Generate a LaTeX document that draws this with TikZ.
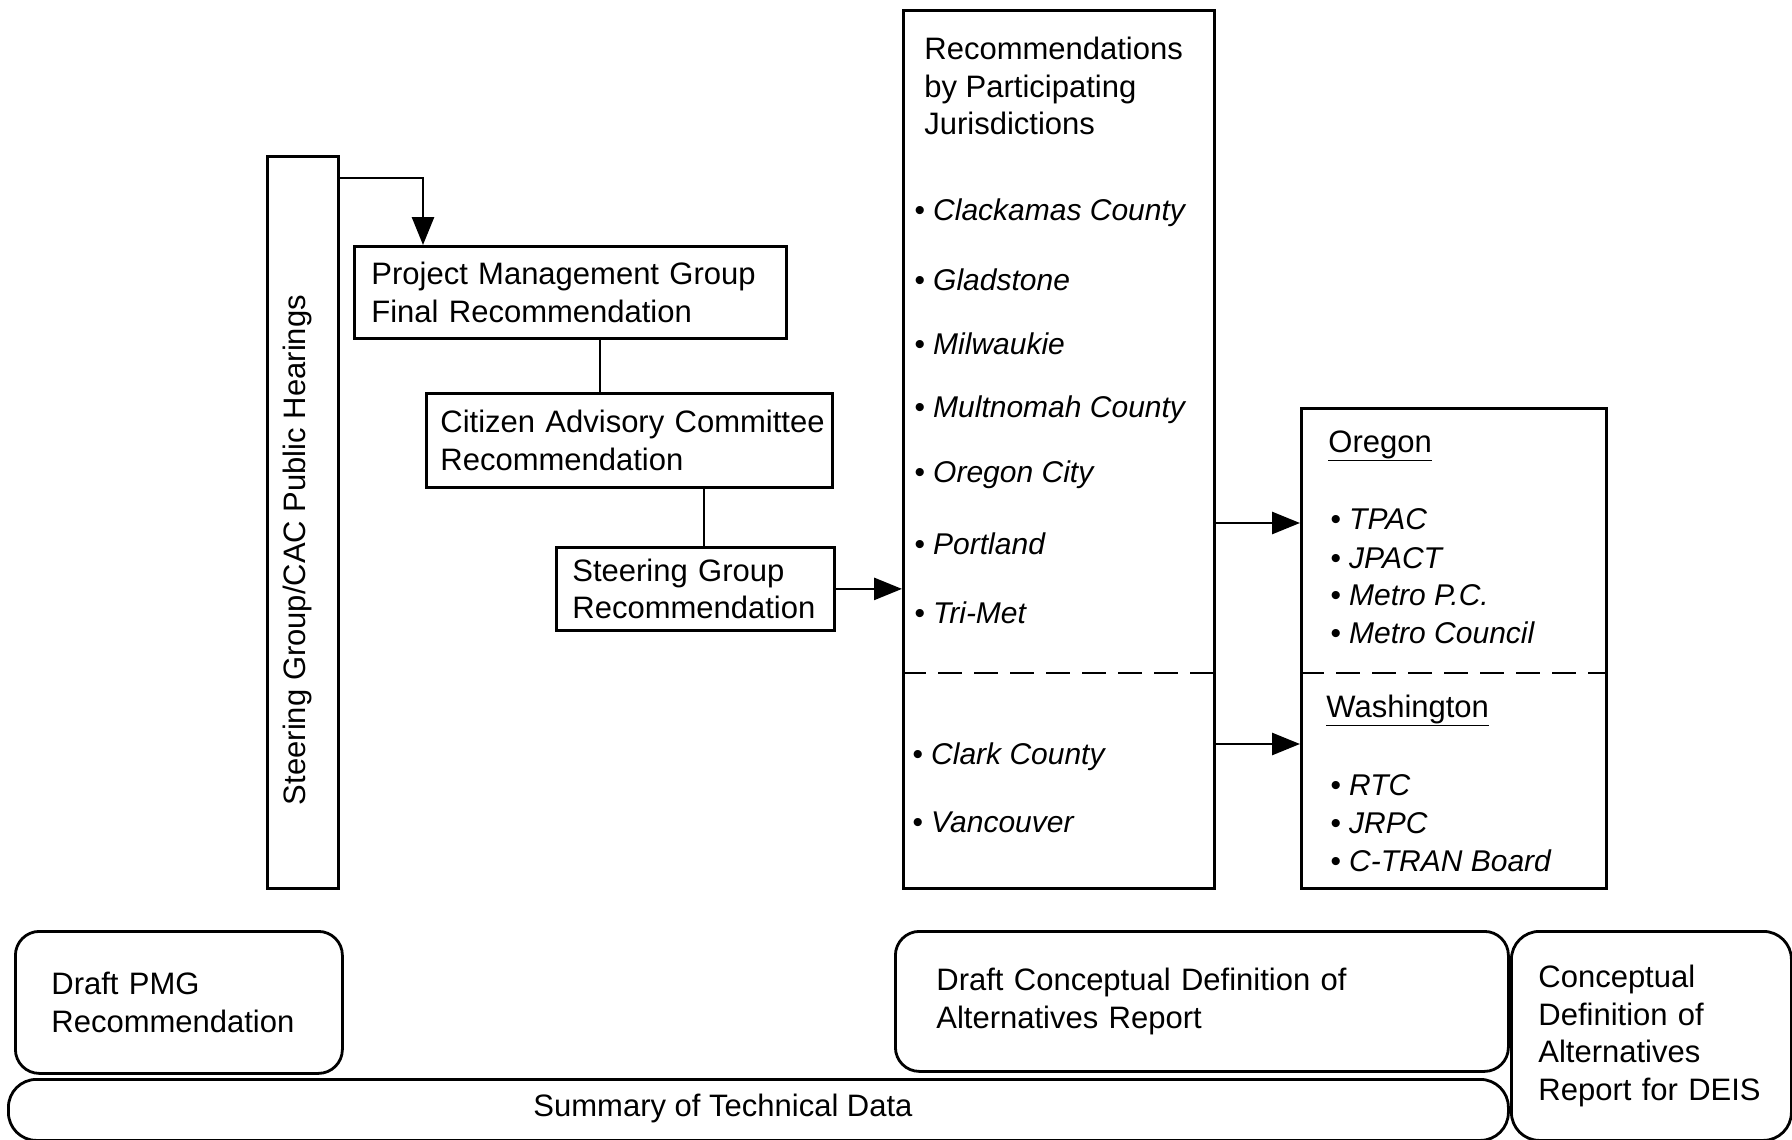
\documentclass[tikz,border=0pt]{standalone}
\usepackage{fontspec}
\setmainfont{Liberation Sans}
\usetikzlibrary{arrows.meta}
\newcommand\fsmain{\fontsize{31pt}{37.5pt}\selectfont}
\newcommand\fsitem{\fontsize{30pt}{37.5pt}\selectfont\itshape}
\begin{document}
\begin{tikzpicture}[x=1pt,y=-1pt,line width=2.8pt,
  box/.style={draw, rectangle, anchor=north west, inner ysep=0pt, align=left, font=\fsmain},
  rbox/.style={box, rounded corners=24pt},
  lbl/.style={inner sep=0pt, anchor=west, align=left, font=\fsmain},
  item/.style={inner sep=0pt, anchor=west, font=\fsitem},
  arr/.style={-{Triangle[length=28pt,width=22pt]}},
  dashline/.style={dash pattern=on 24pt off 12pt}]
\clip (0,0) rectangle (1792,1140);
% left vertical bar
\node[box, minimum width=71pt, minimum height=732pt] (bar) at (266,155) {};
\node[inner sep=0pt, rotate=90, font=\fsmain] (bartext) at (297,550) {Steering Group/CAC Public Hearings};
% chain of recommendation boxes
\node[box, minimum width=432pt, minimum height=92pt, inner xsep=17pt, text width=398pt] (pmg) at (353,245)
  {\mbox{Project Management Group}\\Final Recommendation};
\node[box, minimum width=406pt, minimum height=94pt, inner xsep=14pt, text width=378pt] (cac) at (425,392)
  {\mbox{Citizen Advisory Committee}\\Recommendation};
\node[box, minimum width=278pt, minimum height=83pt, inner xsep=16pt, text width=246pt] (sg) at (555,546)
  {\mbox{Steering Group}\\Recommendation};
% jurisdictions box
\node[box, minimum width=311pt, minimum height=878pt] (rec) at (902,9) {};
\node[lbl] (rechead) at (923,86) {Recommendations\\by Participating\\Jurisdictions};
\node[item] (j1) at (913,213) {• Clackamas County};
\node[item] (j2) at (913,280) {• Gladstone};
\node[item] (j3) at (913,344) {• Milwaukie};
\node[item] (j4) at (913,410) {• Multnomah County};
\node[item] (j5) at (913,475) {• Oregon City};
\node[item] (j6) at (913,544) {• Portland};
\node[item] (j7) at (913,613) {• Tri-Met};
\node[item] (j8) at (911,757) {• Clark County};
\node[item] (j9) at (911,822) {• Vancouver};
% regional box
\node[box, minimum width=305pt, minimum height=480pt] (rgt) at (1300,407) {};
\node[lbl] (oreg) at (1327,446) {\underline{Oregon}};
\node[item] (o1) at (1329,519) {• TPAC};
\node[item] (o2) at (1329,558) {• JPACT};
\node[item] (o3) at (1329,595) {• Metro P.C.};
\node[item] (o4) at (1329,633) {• Metro Council};
\node[lbl] (wash) at (1325,710) {\underline{Washington}};
\node[item] (w1) at (1329,785) {• RTC};
\node[item] (w2) at (1329,823) {• JRPC};
\node[item] (w3) at (1329,861) {• C-TRAN Board};
% dashed separators
\draw[dashline] ([yshift=-664pt]rec.north west) -- ([yshift=-664pt]rec.north east);
\draw[dashline] ([yshift=-266pt]rgt.north west) -- ([yshift=-266pt]rgt.north east);
% bottom report boxes
\node[rbox, minimum width=327pt, minimum height=142pt, inner xsep=36pt, text width=255pt] (dpmg) at (14,930)
  {Draft PMG\\Recommendation};
\node[rbox, minimum width=613pt, minimum height=140pt, inner xsep=41pt, text width=531pt] (dcda) at (894,930)
  {\mbox{Draft Conceptual Definition of}\\Alternatives Report};
\node[rbox, rounded corners=28pt, minimum width=1500pt, minimum height=61pt] (summ) at (7,1078) {};
\node[inner sep=0pt, font=\fsmain] (summtext) at (723,1108) {Summary of Technical Data};
\node[rbox, rounded corners=28pt, minimum width=280pt, minimum height=209pt, inner xsep=27pt, text width=226pt] (cdar) at (1510,930)
  {Conceptual\\Definition of\\Alternatives\\\mbox{Report for DEIS}};
% connectors
\draw[arr] ([yshift=-23pt]bar.north east) -| ([xshift=70pt]pmg.north west);
\draw ([xshift=247pt]pmg.south west) -- ([xshift=175pt]cac.north west);
\draw ([xshift=279pt]cac.south west) -- ([xshift=149pt]sg.north west);
\draw[arr] (sg.east) -- (sg.east -| rec.west);
\draw[arr] ([yshift=-514pt]rec.north east) coordinate (t1) -- (t1 -| rgt.west);
\draw[arr] ([yshift=-735pt]rec.north east) coordinate (t2) -- (t2 -| rgt.west);
\end{tikzpicture}
\end{document}
